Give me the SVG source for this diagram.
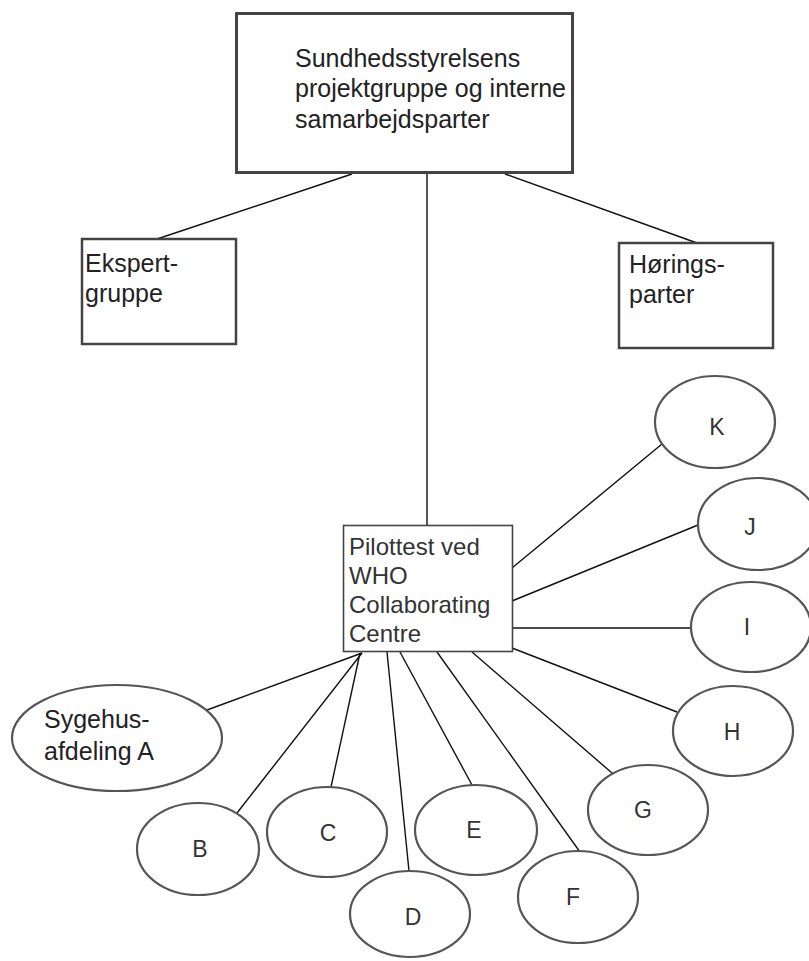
<svg xmlns="http://www.w3.org/2000/svg" width="809" height="961" viewBox="0 0 809 961">
<style>
  .box{fill:#fff;stroke:#444;}
  .oval{fill:#fff;stroke:#555;stroke-width:2.2;}
  .conn line{stroke:#111;stroke-width:1.4;}
  text{font-family:"Liberation Sans",Arial,sans-serif;fill:#222;}
  .t{font-size:25px;}
  .p{font-size:24px;fill:#333;}
  .lbl{font-size:23px;fill:#333;text-anchor:middle;}
</style>
<rect width="809" height="961" fill="#fff"/>
<g id="connectors" class="conn">
  <line x1="352" y1="174" x2="157" y2="239"/>
  <line x1="505" y1="174" x2="697" y2="243"/>
  <line x1="427" y1="174" x2="427" y2="525"/>
  <line x1="207" y1="710" x2="362" y2="653"/>
  <line x1="237" y1="813" x2="362" y2="653"/>
  <line x1="331" y1="787" x2="360" y2="653"/>
  <line x1="387" y1="652" x2="409" y2="871"/>
  <line x1="400" y1="652" x2="472" y2="785"/>
  <line x1="437" y1="652" x2="580" y2="852"/>
  <line x1="472" y1="652" x2="612" y2="773"/>
  <line x1="512" y1="648" x2="677" y2="712"/>
  <line x1="512" y1="628" x2="692" y2="628"/>
  <line x1="512" y1="601" x2="698" y2="525"/>
  <line x1="512" y1="568" x2="662" y2="444"/>
</g>
<g id="sundhedsstyrelsen">
  <rect class="box" x="236.5" y="13.5" width="336" height="159" stroke-width="3"/>
  <text class="t" x="295" y="67">Sundhedsstyrelsens</text>
  <text class="t" x="295" y="97">projektgruppe og interne</text>
  <text class="t" x="295" y="128">samarbejdsparter</text>
</g>
<g id="ekspertgruppe">
  <rect class="box" x="82" y="239" width="154" height="105" stroke-width="2.5" stroke="#555"/>
  <text class="t" x="85" y="272">Ekspert-</text>
  <text class="t" x="85" y="302">gruppe</text>
</g>
<g id="horingsparter">
  <rect class="box" x="619" y="243" width="154" height="105" stroke-width="2.5" stroke="#555"/>
  <text class="t" x="629" y="273">Hørings-</text>
  <text class="t" x="629" y="303">parter</text>
</g>
<g id="pilottest">
  <rect class="box" x="343.5" y="525.5" width="169" height="126" stroke-width="1.6"/>
  <text class="p" x="349" y="555">Pilottest ved</text>
  <text class="p" x="349" y="584">WHO</text>
  <text class="p" x="349" y="613">Collaborating</text>
  <text class="p" x="349" y="642">Centre</text>
</g>
<g id="node-a">
  <ellipse class="oval" cx="117" cy="738" rx="105" ry="53"/>
  <text class="t" x="44" y="728" fill="#333">Sygehus-</text>
  <text class="t" x="44" y="760" fill="#333">afdeling A</text>
</g>
<g id="node-b"><ellipse class="oval" cx="198" cy="849" rx="61" ry="46"/><text class="lbl" x="200" y="857">B</text></g>
<g id="node-c"><ellipse class="oval" cx="327" cy="832" rx="60" ry="45"/><text class="lbl" x="328" y="841">C</text></g>
<g id="node-d"><ellipse class="oval" cx="410" cy="914" rx="60" ry="43"/><text class="lbl" x="413" y="925">D</text></g>
<g id="node-e"><ellipse class="oval" cx="476" cy="830" rx="61" ry="45"/><text class="lbl" x="474" y="838">E</text></g>
<g id="node-f"><ellipse class="oval" cx="578" cy="897" rx="60" ry="46"/><text class="lbl" x="573" y="905">F</text></g>
<g id="node-g"><ellipse class="oval" cx="648" cy="810" rx="60" ry="45"/><text class="lbl" x="643" y="818">G</text></g>
<g id="node-h"><ellipse class="oval" cx="733" cy="731" rx="60" ry="45"/><text class="lbl" x="732" y="740">H</text></g>
<g id="node-i"><ellipse class="oval" cx="751" cy="627" rx="60" ry="45"/><text class="lbl" x="747" y="635">I</text></g>
<g id="node-j"><ellipse class="oval" cx="758" cy="524" rx="60" ry="46"/><text class="lbl" x="750" y="535">J</text></g>
<g id="node-k"><ellipse class="oval" cx="715" cy="422" rx="60" ry="46"/><text class="lbl" x="717" y="435">K</text></g>
</svg>
